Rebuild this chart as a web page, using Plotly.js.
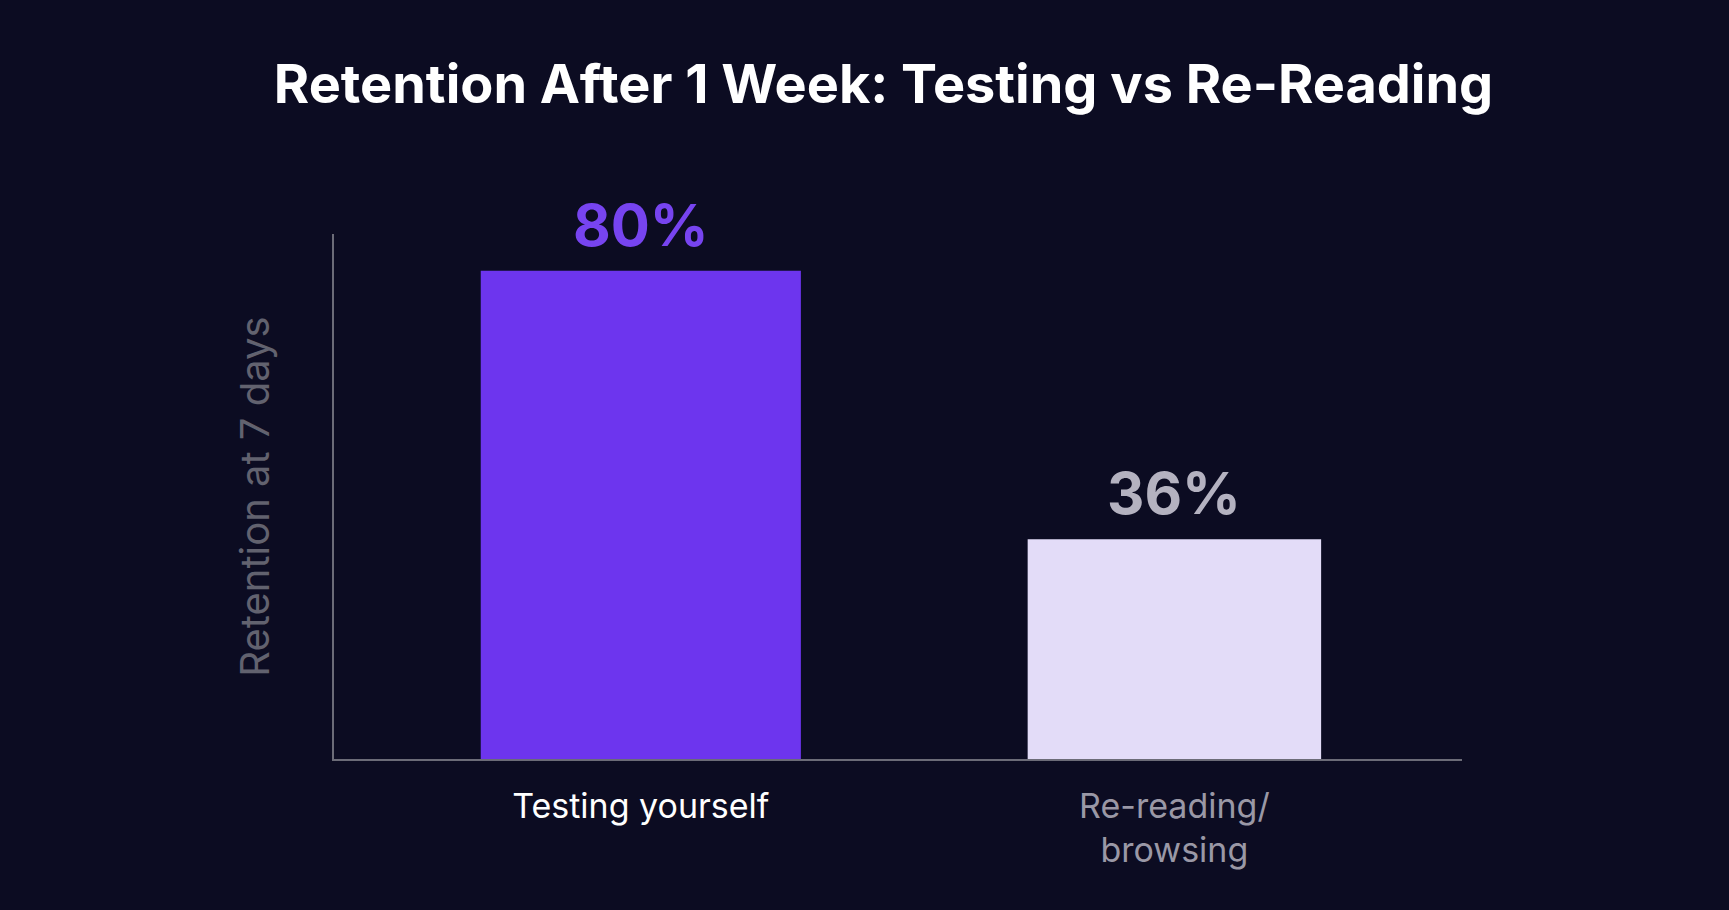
<!DOCTYPE html>
<html>
<head>
<meta charset="utf-8">
<script src="https://cdn.plot.ly/plotly-3.0.1.min.js"></script>
<style>
  html, body { margin: 0; padding: 0; background: #0c0c22; }
  #chart { width: 1729px; height: 910px; }
</style>
</head>
<body>
<div id="chart"></div>
<script>
// retention chart data
var categories = ['Testing yourself', 'Re-reading/<br>browsing'];
var retention = [80, 36];
var valueLabels = ['80%', '36%'];

var barColors = ['#6d35ee', '#e3dcf8'];
var labelColors = ['#7744f0', '#b4b2c0'];
var tickColors = ['#ffffff', '#9a98a6'];

var tickText = [];
for (var i = 0; i < categories.length; i++) {
  tickText.push('<span style="color:' + tickColors[i] + '">' +
    categories[i] + '</span>');
}

var annotations = [];
for (var i = 0; i < retention.length; i++) {
  annotations.push({
    x: i, y: retention[i], xref: 'x', yref: 'y',
    text: valueLabels[i], showarrow: false,
    yanchor: 'bottom', yshift: 9,
    font: {family: 'Inter', size: 58, color: labelColors[i], weight: 700}
  });
}

var bar_data = [{
  x: [0, 1],
  y: retention,
  type: 'bar',
  width: [0.6, 0.55],
  marker: {color: barColors},
  hoverinfo: 'skip'
}];

var layout = {
  width: 1729,
  height: 910,
  paper_bgcolor: '#0c0c22',
  plot_bgcolor: '#0c0c22',
  margin: {l: 334, r: 267, t: 234, b: 151},
  title: {
    text: 'Retention After 1 Week: Testing vs Re-Reading',
    font: {family: 'Inter', size: 54, color: '#ffffff', weight: 700},
    x: 0.511, xanchor: 'center', y: 0.908, yanchor: 'middle'
  },
  xaxis: {
    range: [-0.575, 1.539],
    tickvals: [0, 1],
    ticktext: tickText,
    tickfont: {family: 'Inter', size: 34, color: '#ffffff'},
    ticklabelstandoff: 16,
    showgrid: false, zeroline: false,
    showline: true, linecolor: '#6c6c78', linewidth: 2,
    ticks: '', ticklen: 0
  },
  yaxis: {
    range: [0, 86],
    showticklabels: false,
    showgrid: false, zeroline: false,
    showline: true, linecolor: '#6c6c78', linewidth: 2,
    ticks: '',
    title: {
      text: 'Retention at 7 days',
      font: {family: 'Inter', size: 40, color: '#62626f'},
      standoff: 50
    }
  },
  annotations: annotations,
  showlegend: false
};

Plotly.newPlot('chart', bar_data, layout, {displayModeBar: false, staticPlot: true});
</script>
</body>
</html>
